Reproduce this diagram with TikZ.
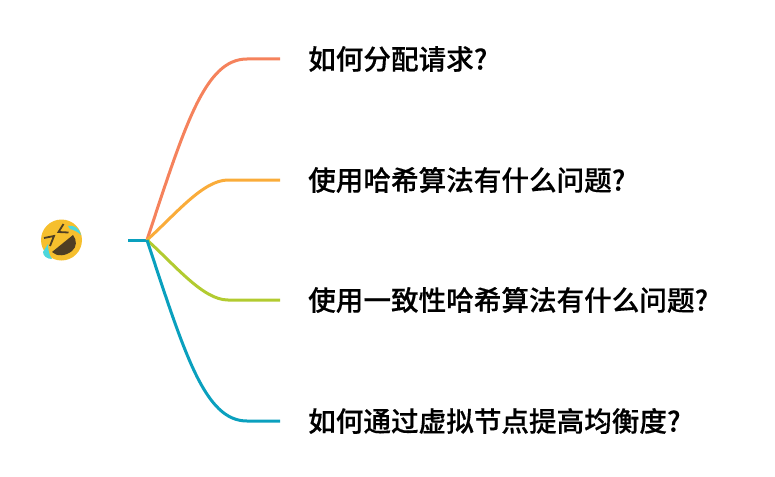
\documentclass[tikz,border=0pt]{standalone}
\usepackage{fontspec}
\usepackage{xcolor}
\usetikzlibrary{positioning,calc}
\setmainfont{Noto Sans CJK SC}[UprightFont={* Medium},BoldFont={* Bold},UprightFeatures={FakeBold=0.35}]
\definecolor{orangeline}{RGB}{245,130,92}
\definecolor{yellowline}{RGB}{250,172,58}
\definecolor{greenline}{RGB}{178,203,48}
\definecolor{blueline}{RGB}{10,160,190}
\definecolor{faceyellow}{RGB}{246,191,45}
\definecolor{facetear}{RGB}{77,215,220}
\definecolor{facedark}{RGB}{78,62,36}
\begin{document}
\begin{tikzpicture}[x=1pt,y=-1pt,
  branch/.style={line width=3pt},
  topic/.style={anchor=west,inner sep=0pt,font=\fontsize{27.6}{32}\selectfont}]
\useasboundingbox (0,0) rectangle (775,476);
% root
\coordinate (root) at (147,240);
\coordinate (stub) at (128,240);
\draw[branch,blueline] (stub) -- (root);
% topics
\node[topic] (t1) at (308,59) {如何分配请求?};
\node[topic] (t2) at (308,180) {使用哈希算法有什么问题?};
\node[topic] (t3) at (308,300) {使用一致性哈希算法有什么问题?};
\node[topic] (t4) at (308,421) {如何通过虚拟节点提高均衡度?};
\coordinate (e1) at (280,59);
\coordinate (e2) at (280,180);
\coordinate (e3) at (280,300);
\coordinate (e4) at (280,421);
% branches
\draw[branch,orangeline] (root) .. controls (185,125) and (205,59) .. (247,59) -- (e1);
\draw[branch,yellowline] (root) .. controls (175,215) and (203,180) .. (228,180) -- (e2);
\draw[branch,greenline] (root) .. controls (175,265) and (203,300) .. (228,300) -- (e3);
\draw[branch,blueline] (root) .. controls (185,355) and (205,421) .. (247,421) -- (e4);
% emoji
\fill[faceyellow] (61.5,240) circle (20.5);
\fill[facedark] (52,252) -- (73,235) .. controls (77,240) and (77,247) .. (72,251)
  .. controls (66,256) and (57,257) .. (52,252) -- cycle;
\fill[facetear] (68,226) .. controls (73,225) and (79,227) .. (81,235)
  .. controls (78,232) and (74,230) .. (70,229) -- cycle;
\fill[facetear] (48,244) .. controls (48,249) and (49,255) .. (52,259)
  .. controls (47,259) and (43,256) .. (43,252) -- cycle;
\draw[facedark,line width=1.8pt] (44,238) -- (54,236) -- (50,246);
\draw[facedark,line width=1.8pt] (63.5,224) -- (58.5,232) -- (68.5,232.5);
\end{tikzpicture}
\end{document}
